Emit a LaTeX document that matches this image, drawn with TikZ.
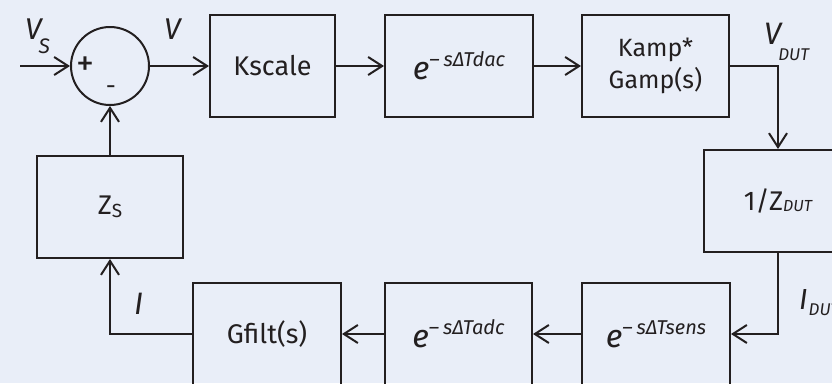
\documentclass[tikz,border=0pt]{standalone}
\usepackage{fontspec}
\setmainfont{Fira Sans}
\usetikzlibrary{arrows.meta}
\definecolor{bg}{HTML}{E9EEF8}
\definecolor{ink}{HTML}{231F20}
\newcommand{\fsz}[1]{\fontsize{#1}{#1}\selectfont}
\newcommand{\expo}[1]{{\fsz{32}\itshape e}\raisebox{13pt}{\fsz{20}\itshape –\hspace{4pt}sΔT#1}}
\begin{document}
\begin{tikzpicture}[x=1pt,y=-1pt,
  blk/.style={draw=ink, line width=2pt, minimum height=102pt, inner sep=0pt, text=ink, font=\fsz{27}},
  conn/.style={draw=ink, line width=2pt, -{Straight Barb[length=14pt,width=18pt]}},
  lbl/.style={anchor=base west, inner sep=0pt, text=ink},
  sgn/.style={inner sep=0pt, text=ink}]
\useasboundingbox (0,0) rectangle (832,383);
\fill[bg] (0,0) rectangle (832,383);
% blocks
\node[circle, draw=ink, line width=2pt, minimum size=78pt, inner sep=0pt] (sum) at (110,66) {};
\node[blk, minimum width=125pt] (kscale) at (272.5,66) {Kscale};
\node[blk, minimum width=148pt] (dac) at (459,66) {\expo{dac}};
\node[blk, minimum width=147pt, align=center, font=\fontsize{25}{32}\selectfont] (kamp) at (655.5,66) {Kamp*\\Gamp(s)};
\node[blk, minimum width=148pt] (zdut) at (778,201) {1/Z\raisebox{-1pt}{\fsz{16}\itshape DUT}};
\node[blk, minimum width=148pt] (sens) at (656,334) {\expo{sens}};
\node[blk, minimum width=147pt] (adc) at (458.5,334) {\expo{adc}};
\node[blk, minimum width=148pt] (gfilt) at (267,334) {Gfilt(s)};
\node[blk, minimum width=146pt] (zs) at (110,207) {Z\raisebox{-3pt}{\fsz{19}S}};
\coordinate (in) at (20,66);
% signs
\node[sgn, font=\fsz{36}] (plus) at (85,66) {+};
\node[sgn, font=\fsz{25}] (minus) at (111,90) {-};
% labels
\node[lbl] (lvs) at (25,39) {\fsz{30}\itshape V\kern-3pt\raisebox{-14pt}{\fsz{21}S}};
\node[lbl] (lv) at (164,39) {\fsz{30}\itshape V};
\node[lbl] (lvdut) at (764,44) {\fsz{31}\itshape V\kern-3pt\raisebox{-16pt}{\fsz{17}DUT}};
\node[lbl] (lidut) at (799,309) {\fsz{29}\itshape I\kern1pt\raisebox{-6pt}{\fsz{17}DUT}};
\node[lbl] (li) at (134,314) {\fsz{31}\itshape I};
% connectors
\draw[conn] (in) -- (sum);
\draw[conn] (sum) -- (kscale);
\draw[conn] (kscale) -- (dac);
\draw[conn] (dac) -- (kamp);
\draw[conn] (kamp.east) -| (zdut.north);
\draw[conn] (zdut.south) |- (sens.east);
\draw[conn] (sens) -- (adc);
\draw[conn] (adc) -- (gfilt);
\draw[conn] (gfilt.west) -| (zs.south);
\draw[conn] (zs) -- (sum);
\end{tikzpicture}
\end{document}
